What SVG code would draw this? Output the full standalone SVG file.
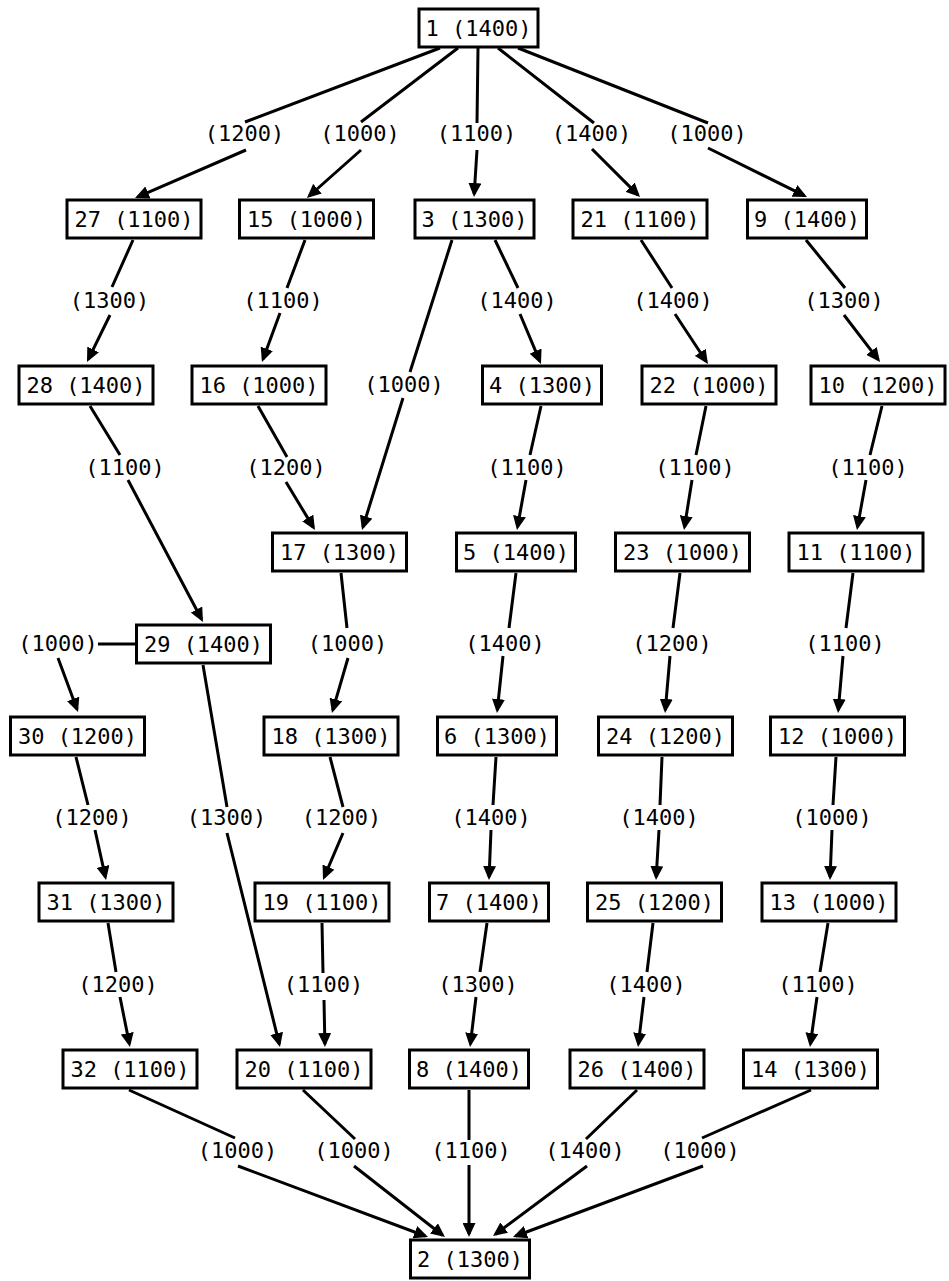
<svg xmlns="http://www.w3.org/2000/svg" width="949" height="1281" viewBox="0 0 949 1281">
<style>
rect{fill:#fff;stroke:#000;stroke-width:3}
text{font-family:"DejaVu Sans Mono","Liberation Mono",monospace;font-size:22px;fill:#000;text-anchor:middle}
.e{fill:none;stroke:#000;stroke-width:3;marker-end:url(#a)}
</style>
<defs>
<marker id="a" markerUnits="userSpaceOnUse" markerWidth="15" markerHeight="13" viewBox="0 0 15 13" refX="11" refY="6.5" orient="auto"><path d="M0,0 L14,6.5 L0,13 z" fill="#000"/></marker>
</defs>
<rect x="0" y="0" width="949" height="1281" style="stroke:none"/>
<g id="connectors">
<path class="e" d="M440 48 L245 122 M246 150 L137.8 196.8"/>
<path class="e" d="M458 48 L361 122 M361 150 L309.2 196"/>
<path class="e" d="M478 48 L477 123 M477 150 L474.2 194"/>
<path class="e" d="M498 48 L594 123 M592 149 L637.9 194.9"/>
<path class="e" d="M518 48 L708 123 M708 148 L804.3 195.7"/>
<path class="e" d="M133 240 L112 287 M110 315 L88.3 359.3"/>
<path class="e" d="M305 240 L287 288 M280 313 L263 359.2"/>
<path class="e" d="M452 240 L410 372 M403 398 L362.9 527.1"/>
<path class="e" d="M495 240 L518 288 M520 314 L539.8 361.2"/>
<path class="e" d="M641 240 L672 288 M675 314 L706.3 361.5"/>
<path class="e" d="M806 240 L845 288 M844 315 L878.2 359.6"/>
<path class="e" d="M90 406 L120 455 M128 480 L201.6 619.3"/>
<path class="e" d="M258 406 L287 457 M286 482 L313.4 527.4"/>
<path class="e" d="M541 406 L530 455 M526 480 L517.5 527"/>
<path class="e" d="M706 406 L696 455 M692 480 L684.5 527"/>
<path class="e" d="M882 406 L870 455 M866 480 L857.5 527"/>
<path class="e" d="M341 573 L347 628 M348 658 L332.8 710.1"/>
<path class="e" d="M516 573 L509 628 M503 656 L497.3 710"/>
<path class="e" d="M680 573 L673 628 M670 656 L665.3 710"/>
<path class="e" d="M853 573 L846 628 M843 656 L838.3 710"/>
<path class="e" d="M135 644 L98 644 M58 658 L77 709.2"/>
<path class="e" d="M203 665 L227 807 M227 833 L279.3 1044.1"/>
<path class="e" d="M76 757 L88 805 M95 830 L105.4 877.1"/>
<path class="e" d="M330 757 L343 807 M343 833 L324.2 877.2"/>
<path class="e" d="M496 757 L493 805 M491 830 L489.1 877"/>
<path class="e" d="M662 757 L660 805 M659 830 L656.2 877"/>
<path class="e" d="M836 757 L833 805 M832 830 L830.1 877"/>
<path class="e" d="M108 923 L116 972 M120 997 L129.4 1044"/>
<path class="e" d="M322 923 L323 973 M324 1000 L324.9 1044"/>
<path class="e" d="M487 923 L480 972 M476 997 L470.4 1044"/>
<path class="e" d="M653 923 L647 972 M644 997 L638.4 1044"/>
<path class="e" d="M828 923 L820 972 M817 997 L810.4 1044"/>
<path class="e" d="M129 1090 L235 1138 M238 1166 L425.2 1236"/>
<path class="e" d="M303 1090 L355 1139 M354 1166 L442.6 1235.2"/>
<path class="e" d="M469 1090 L469 1140 M469 1165 L469 1234"/>
<path class="e" d="M637 1090 L586 1139 M587 1166 L495.4 1234.2"/>
<path class="e" d="M811 1090 L702 1138 M703 1166 L515.8 1236"/>
</g>
<g id="edge-labels">
<text x="244.5" y="141">(1200)</text>
<text x="360" y="141">(1000)</text>
<text x="476.5" y="141">(1100)</text>
<text x="591.5" y="141">(1400)</text>
<text x="707" y="141">(1000)</text>
<text x="109.5" y="308">(1300)</text>
<text x="283" y="308">(1100)</text>
<text x="404" y="392">(1000)</text>
<text x="517" y="308">(1400)</text>
<text x="673" y="308">(1400)</text>
<text x="844" y="308">(1300)</text>
<text x="125" y="475">(1100)</text>
<text x="286" y="475">(1200)</text>
<text x="527" y="475">(1100)</text>
<text x="695" y="475">(1100)</text>
<text x="868" y="475">(1100)</text>
<text x="347.5" y="651">(1000)</text>
<text x="505" y="651">(1400)</text>
<text x="672" y="651">(1200)</text>
<text x="845" y="651">(1100)</text>
<text x="58" y="651">(1000)</text>
<text x="226.5" y="825">(1300)</text>
<text x="92" y="825">(1200)</text>
<text x="341.5" y="825">(1200)</text>
<text x="491" y="825">(1400)</text>
<text x="659" y="825">(1400)</text>
<text x="832" y="825">(1000)</text>
<text x="118" y="992">(1200)</text>
<text x="323.5" y="992">(1100)</text>
<text x="478" y="992">(1300)</text>
<text x="646" y="992">(1400)</text>
<text x="818" y="992">(1100)</text>
<text x="237.5" y="1158">(1000)</text>
<text x="354" y="1158">(1000)</text>
<text x="471" y="1158">(1100)</text>
<text x="585" y="1158">(1400)</text>
<text x="700" y="1158">(1000)</text>
</g>
<g id="n1"><rect x="419" y="9" width="119" height="38"/><text x="478.5" y="35.5">1 (1400)</text></g>
<g id="n27"><rect x="67" y="200" width="134" height="38"/><text x="134" y="226.5">27 (1100)</text></g>
<g id="n15"><rect x="239.5" y="200" width="134" height="38"/><text x="306.5" y="226.5">15 (1000)</text></g>
<g id="n3"><rect x="415" y="200" width="119" height="38"/><text x="474.5" y="226.5">3 (1300)</text></g>
<g id="n21"><rect x="573" y="200" width="134" height="38"/><text x="640" y="226.5">21 (1100)</text></g>
<g id="n9"><rect x="747.5" y="200" width="119" height="38"/><text x="807" y="226.5">9 (1400)</text></g>
<g id="n28"><rect x="19" y="366" width="134" height="38"/><text x="86" y="392.5">28 (1400)</text></g>
<g id="n16"><rect x="192" y="366" width="134" height="38"/><text x="259" y="392.5">16 (1000)</text></g>
<g id="n4"><rect x="482.5" y="366" width="119" height="38"/><text x="542" y="392.5">4 (1300)</text></g>
<g id="n22"><rect x="642" y="366" width="134" height="38"/><text x="709" y="392.5">22 (1000)</text></g>
<g id="n10"><rect x="811" y="366" width="134" height="38"/><text x="878" y="392.5">10 (1200)</text></g>
<g id="n17"><rect x="272.5" y="533" width="134" height="38"/><text x="339.5" y="559.5">17 (1300)</text></g>
<g id="n5"><rect x="456.5" y="533" width="119" height="38"/><text x="516" y="559.5">5 (1400)</text></g>
<g id="n23"><rect x="615.5" y="533" width="134" height="38"/><text x="682.5" y="559.5">23 (1000)</text></g>
<g id="n11"><rect x="789" y="533" width="134" height="38"/><text x="856" y="559.5">11 (1100)</text></g>
<g id="n29"><rect x="136.5" y="625" width="134" height="38"/><text x="203.5" y="651.5">29 (1400)</text></g>
<g id="n30"><rect x="10.5" y="717" width="134" height="38"/><text x="77.5" y="743.5">30 (1200)</text></g>
<g id="n18"><rect x="264" y="717" width="134" height="38"/><text x="331" y="743.5">18 (1300)</text></g>
<g id="n6"><rect x="437.5" y="717" width="119" height="38"/><text x="497" y="743.5">6 (1300)</text></g>
<g id="n24"><rect x="598.5" y="717" width="134" height="38"/><text x="665.5" y="743.5">24 (1200)</text></g>
<g id="n12"><rect x="770.5" y="717" width="134" height="38"/><text x="837.5" y="743.5">12 (1000)</text></g>
<g id="n31"><rect x="39" y="883" width="134" height="38"/><text x="106" y="909.5">31 (1300)</text></g>
<g id="n19"><rect x="255" y="883" width="134" height="38"/><text x="322" y="909.5">19 (1100)</text></g>
<g id="n7"><rect x="429.5" y="883" width="119" height="38"/><text x="489" y="909.5">7 (1400)</text></g>
<g id="n25"><rect x="587.5" y="883" width="134" height="38"/><text x="654.5" y="909.5">25 (1200)</text></g>
<g id="n13"><rect x="762" y="883" width="134" height="38"/><text x="829" y="909.5">13 (1000)</text></g>
<g id="n32"><rect x="63" y="1050" width="134" height="38"/><text x="130" y="1076.5">32 (1100)</text></g>
<g id="n20"><rect x="237" y="1050" width="134" height="38"/><text x="304" y="1076.5">20 (1100)</text></g>
<g id="n8"><rect x="409.5" y="1050" width="119" height="38"/><text x="469" y="1076.5">8 (1400)</text></g>
<g id="n26"><rect x="570" y="1050" width="134" height="38"/><text x="637" y="1076.5">26 (1400)</text></g>
<g id="n14"><rect x="743.5" y="1050" width="134" height="38"/><text x="810.5" y="1076.5">14 (1300)</text></g>
<g id="n2"><rect x="410.5" y="1240" width="119" height="38"/><text x="470" y="1266.5">2 (1300)</text></g>
</svg>
